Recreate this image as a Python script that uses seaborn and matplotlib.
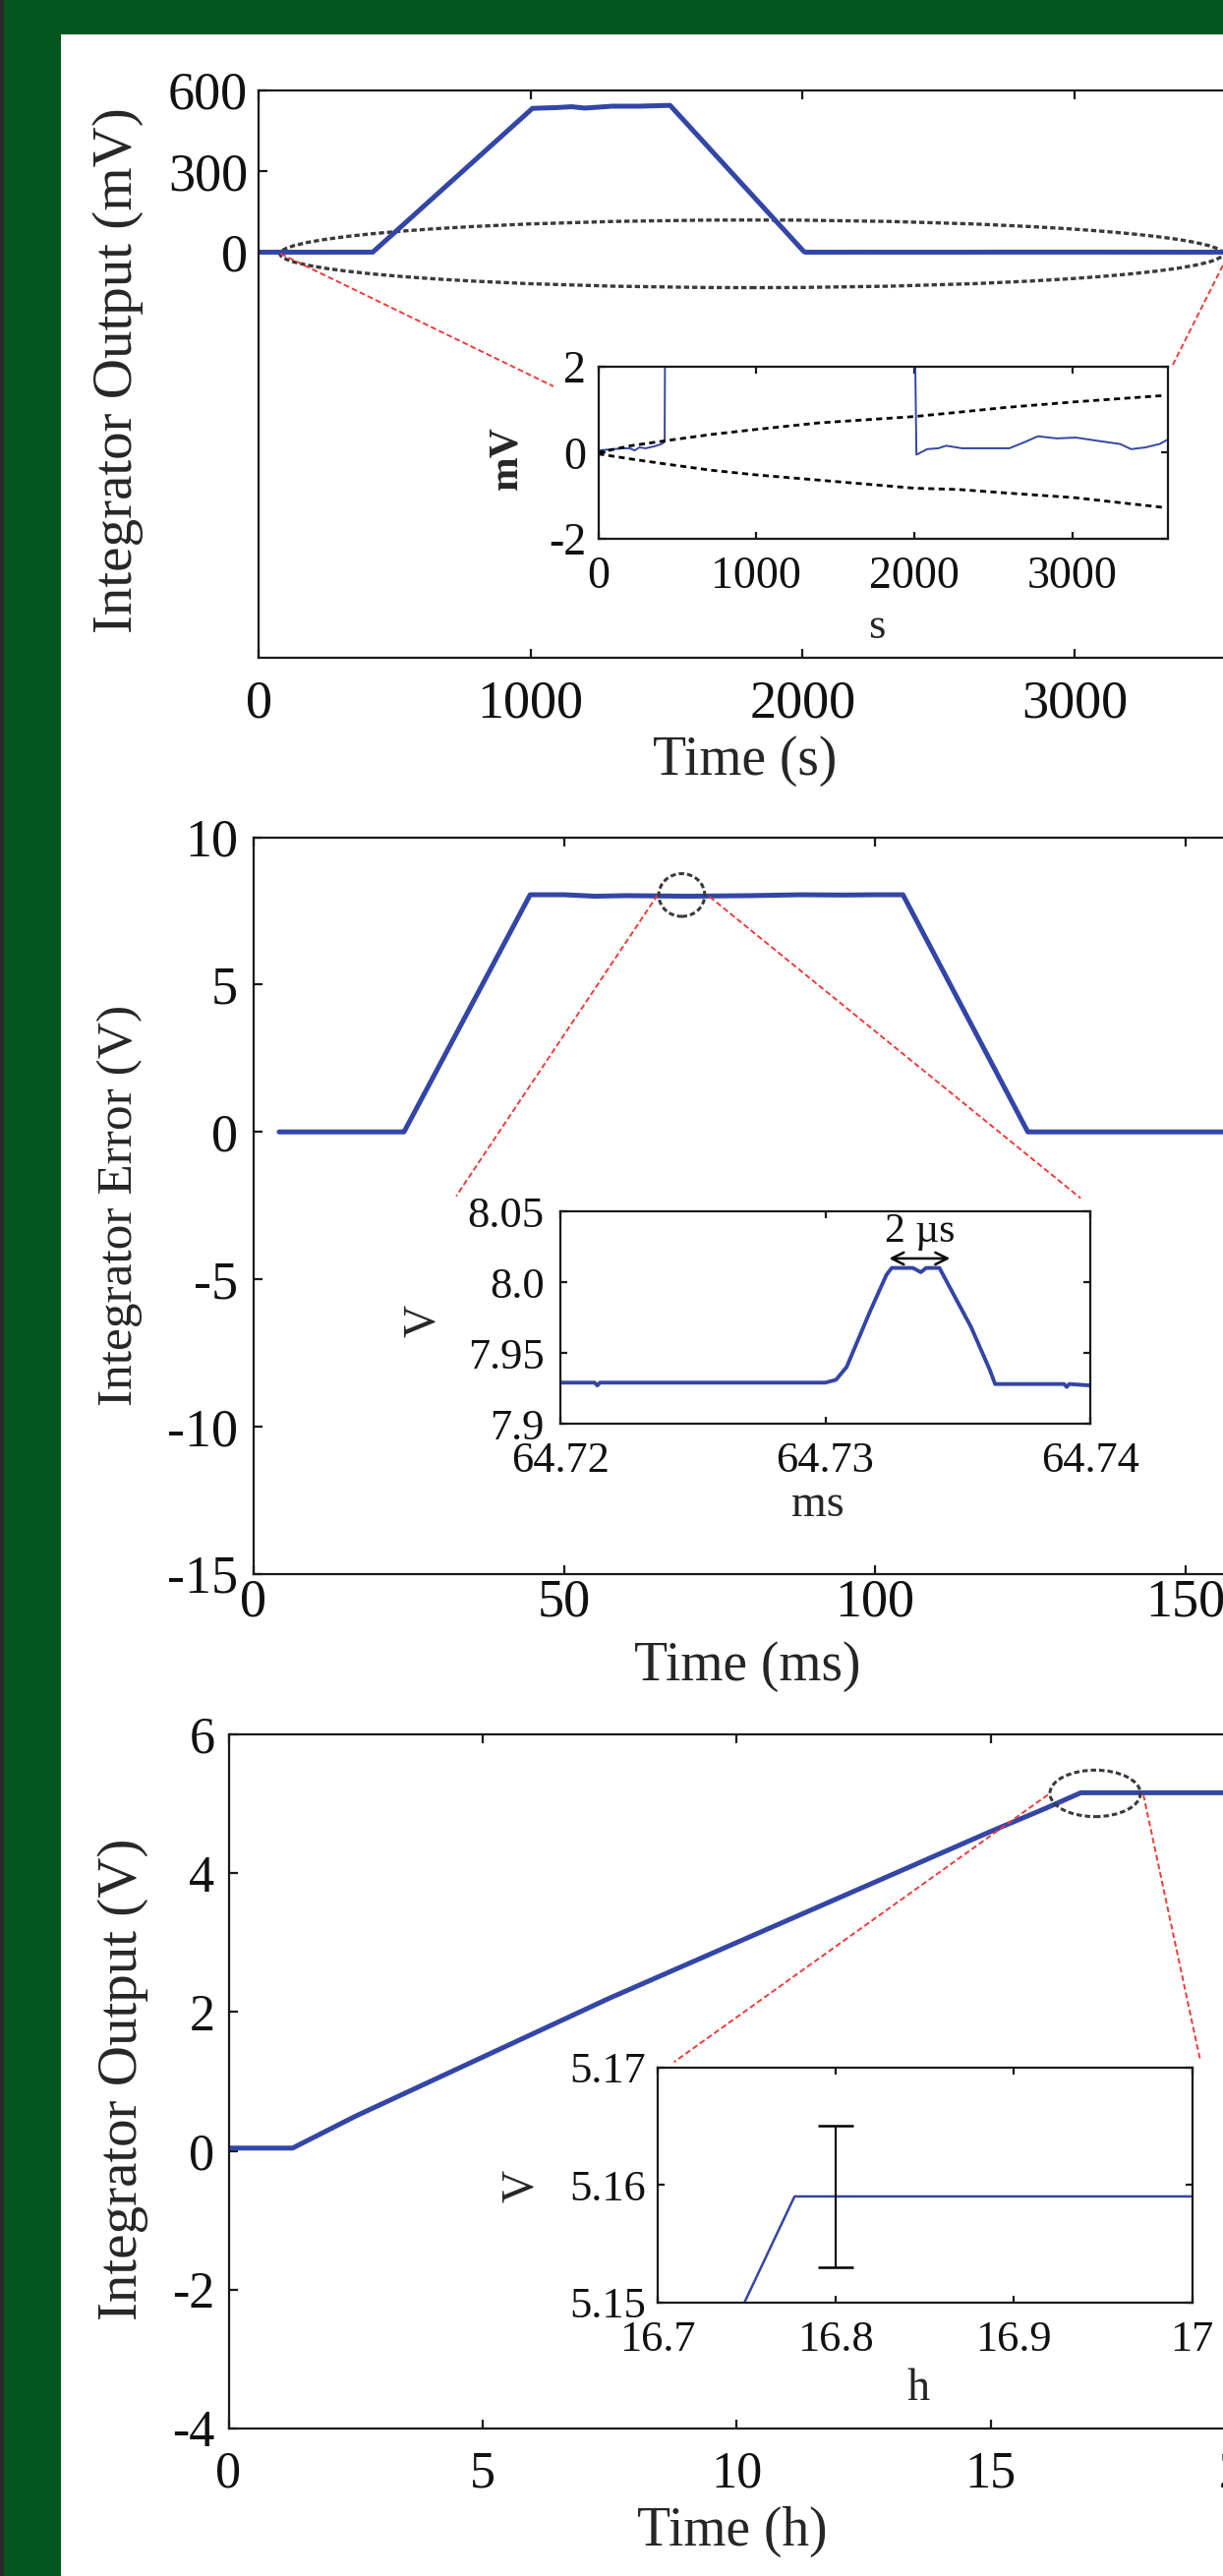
import numpy as np
import pandas as pd
import matplotlib
matplotlib.use("Agg")
import matplotlib.pyplot as plt
from matplotlib.patches import Ellipse, Rectangle
import seaborn as sns

# ---------------- data ----------------
# Panel 1: integrator output (mV) vs time (s); also used for the zoomed inset
p1_time = [0, 100, 150, 200, 230, 260, 300, 360, 400, 420, 1007, 1100, 1150, 1200,
           1300, 1400, 1513, 2005, 2012, 2080, 2150, 2200, 2300, 2450, 2600, 2700,
           2780, 2900, 3020, 3165, 3300, 3370, 3460, 3550, 3600]
p1_mv = [0.05, 0.08, 0.10, 0.10, 0.05, 0.12, 0.10, 0.15, 0.20, 0.25, 532, 535, 538, 533,
         540, 540, 543, 2.0, -0.05, 0.08, 0.10, 0.16, 0.10, 0.10, 0.10, 0.25,
         0.38, 0.33, 0.35, 0.27, 0.20, 0.08, 0.12, 0.20, 0.30]
# Dashed bounds in inset 1 (mV)
bound_time = [0, 207, 414, 710, 1000, 1390, 2000, 2278, 2574, 3010, 3580]
bound_upper = [0, 0.16, 0.27, 0.42, 0.54, 0.69, 0.84, 0.94, 1.05, 1.18, 1.33]
bound_lower = [-0.03, -0.15, -0.26, -0.41, -0.52, -0.64, -0.83, -0.86, -0.94, -1.05, -1.28]

# Panel 2: integrator error (V) vs time (ms)
p2_time = [4.1, 24.2, 44.5, 50, 55, 60, 70, 80, 88, 95, 100, 104.5, 124.6, 200]
p2_v = [0, 0, 8.05, 8.05, 8.0, 8.02, 8.0, 8.02, 8.05, 8.04, 8.05, 8.05, 0, 0]
# Inset 2: zoom around 64.73 ms
z2_time = [64.7200, 64.7213, 64.7214, 64.7215, 64.7300, 64.7304, 64.7308, 64.7317,
           64.7323, 64.7325, 64.7333, 64.7336, 64.7338, 64.7343, 64.7345, 64.7355,
           64.7362, 64.7364, 64.7390, 64.7391, 64.7392, 64.7400]
z2_v = [7.929, 7.929, 7.927, 7.929, 7.929, 7.931, 7.940, 7.980,
        8.005, 8.010, 8.010, 8.007, 8.010, 8.010, 8.003, 7.968,
        7.938, 7.928, 7.928, 7.926, 7.928, 7.927]

# Panel 3: integrator output (V) vs time (h); also used for inset 3
p3_time = [0, 1.26, 2.5, 5.0, 7.5, 10.0, 12.5, 15.0, 16.07, 16.749, 16.777, 25]
p3_v = [0.04, 0.04, 0.50, 1.35, 2.20, 3.00, 3.80, 4.60, 4.93, 5.150, 5.159, 5.159]
err_x = [16.8]
err_y = [5.159]
err_half = [0.006]

# tick labels
p1_xticks = [0, 1000, 2000, 3000]
p1_yticks = [0, 300, 600]
in1_xticks = [0, 1000, 2000, 3000]
in1_yticks = [-2, 0, 2]
p2_xticks = [0, 50, 100, 150]
p2_yticks = [-15, -10, -5, 0, 5, 10]
in2_xticks = [64.72, 64.73, 64.74]
in2_xlabels = ["64.72", "64.73", "64.74"]
in2_yticks = [7.90, 7.95, 8.00, 8.05]
in2_ylabels = ["7.9", "7.95", "8.0", "8.05"]
p3_xticks = [0, 5, 10, 15, 20]
p3_yticks = [-4, -2, 0, 2, 4, 6]
in3_xticks = [16.7, 16.8, 16.9, 17.0]
in3_xlabels = ["16.7", "16.8", "16.9", "17"]
in3_yticks = [5.15, 5.16, 5.17]
in3_ylabels = ["5.15", "5.16", "5.17"]

# ---------------- style ----------------
sns.set_theme(style="ticks")
plt.rcParams["font.family"] = ["Liberation Serif", "DejaVu Serif"]
plt.rcParams["axes.unicode_minus"] = False

BLUE = "#3346A6"
RED = "#F03A3A"
GRAY = "#3a3a3a"
GREEN = "#04561F"

W, H = 1244, 2620
fig = plt.figure(figsize=(W / 100, H / 100), dpi=100, facecolor=GREEN)
fig.patches.append(Rectangle((62 / W, 0), 1, 1 - 35 / H, transform=fig.transFigure,
                             facecolor="white", edgecolor="none", zorder=-2))
fig.patches.append(Rectangle((0, 0), 4 / W, 1, transform=fig.transFigure,
                             facecolor="#2a2a2a", edgecolor="none", zorder=-1))


def box(left, top, right, bottom):
    return [left / W, 1 - bottom / H, (right - left) / W, (bottom - top) / H]


def style(ax, lw, tlen, tsize, xpad, ypad):
    for s in ax.spines.values():
        s.set_visible(True)
        s.set_linewidth(lw)
        s.set_color("#1a1a1a")
    ax.tick_params(direction="in", top=True, right=True, length=tlen, width=lw,
                   labelsize=tsize, colors="#1a1a1a", labelcolor="#111111")
    ax.tick_params(axis="x", pad=xpad)
    ax.tick_params(axis="y", pad=ypad)
    ax.grid(False)
    ax.set_facecolor("white")


def labels(ax, xl, yl, xpos, ypos, size_x, size_y, weight_y="normal"):
    ax.set_xlabel(xl, fontsize=size_x)
    ax.set_ylabel(yl, fontsize=size_y, fontweight=weight_y)
    ax.xaxis.label.set_verticalalignment("center")
    ax.yaxis.label.set_verticalalignment("center")
    ax.xaxis.set_label_coords(*xpos)
    ax.yaxis.set_label_coords(*ypos)


def dashed(ax, xs, ys, color, lw, dashes):
    sns.lineplot(x=xs, y=ys, ax=ax, color=color, linewidth=lw, sort=False,
                 estimator=None, dashes=False)
    ax.lines[-1].set_dashes(dashes)


# ================= Panel 1 =================
ax1 = fig.add_axes(box(263, 91.5, 1369.7, 669))
ell1 = Ellipse((1812, -6), 3466, 250, fill=False, edgecolor=GRAY, lw=2.4,
               linestyle=(0, (1.6, 0.9)), zorder=1)
ax1.add_patch(ell1)
sns.lineplot(x=p1_time, y=p1_mv, ax=ax1, color=BLUE, linewidth=3.6,
             sort=False, estimator=None)
dashed(ax1, [81, 1084], [-6, -496], RED, 1.4, (3, 1.6))
dashed(ax1, [3545, 3361], [-49, -417], RED, 1.4, (3, 1.6))
ax1.set_xlim(0, 4000)
ax1.set_ylim(-1500, 600)
ax1.set_xticks(p1_xticks)
ax1.set_yticks(p1_yticks)
style(ax1, 1.6, 6.5, 39, 16, 8)
labels(ax1, "Time (s)", "Integrator Output (mV)", (0.447, -0.182), (-0.129, 0.506), 40, 41)

in1 = fig.add_axes(box(608.5, 373, 1187.6, 547.6))
sns.lineplot(x=p1_time, y=p1_mv, ax=in1, color=BLUE, linewidth=1.4,
             sort=False, estimator=None)
dashed(in1, bound_time, bound_upper, "black", 2.0, (2.2, 1.6))
dashed(in1, bound_time, bound_lower, "black", 2.0, (2.2, 1.6))
in1.set_xlim(0, 3600)
in1.set_ylim(-2, 2)
in1.set_xticks(in1_xticks)
in1.set_yticks(in1_yticks)
style(in1, 1.6, 5, 33, 13, 9)
labels(in1, "s", "mV", (0.49, -0.518), (-0.16, 0.47), 32, 30, "bold")

# ================= Panel 2 =================
ax2 = fig.add_axes(box(258, 851.6, 1522, 1600.7))
sns.lineplot(x=p2_time, y=p2_v, ax=ax2, color=BLUE, linewidth=3.6,
             sort=False, estimator=None)
ell2 = Ellipse((68.9, 8.04), 7.4, 1.45, fill=False, edgecolor=GRAY, lw=2.2,
               linestyle=(0, (1.8, 1.0)), zorder=3)
ax2.add_patch(ell2)
dashed(ax2, [65.0, 32.6], [8.04, -2.18], RED, 1.4, (3, 1.6))
dashed(ax2, [73.4, 133.1], [7.98, -2.25], RED, 1.4, (3, 1.6))
ax2.set_xlim(0, 200)
ax2.set_ylim(-15, 10)
ax2.set_xticks(p2_xticks)
ax2.set_yticks(p2_yticks)
style(ax2, 1.6, 6.5, 39, 3, 11.5)
labels(ax2, "Time (ms)", "Integrator Error (V)", (0.397, -0.126), (-0.108, 0.5), 40, 37)

in2 = fig.add_axes(box(569.8, 1232, 1109.3, 1448))
sns.lineplot(x=z2_time, y=z2_v, ax=in2, color=BLUE, linewidth=2.8,
             sort=False, estimator=None)
in2.annotate("", xy=(64.7324, 8.0167), xytext=(64.7347, 8.0167),
             arrowprops=dict(arrowstyle="<->", lw=1.8, color="black", mutation_scale=22,
                             shrinkA=0, shrinkB=0))
in2.text(64.73355, 8.0353, "2 µs", ha="center", va="center", fontsize=30, color="#111111")
in2.set_xlim(64.72, 64.74)
in2.set_ylim(7.9, 8.05)
in2.set_xticks(in2_xticks)
in2.set_xticklabels(in2_xlabels)
in2.set_yticks(in2_yticks)
in2.set_yticklabels(in2_ylabels)
style(in2, 1.6, 5, 32, 13, 11.5)
labels(in2, "ms", "V", (0.485, -0.382), (-0.257, 0.484), 33, 33)

# ================= Panel 3 =================
ax3 = fig.add_axes(box(232.5, 1764, 1524.2, 2470))
sns.lineplot(x=p3_time, y=p3_v, ax=ax3, color=BLUE, linewidth=3.6,
             sort=False, estimator=None)
ell3 = Ellipse((17.06, 5.15), 1.78, 0.67, fill=False, edgecolor=GRAY, lw=2.2,
               linestyle=(0, (1.8, 1.0)), zorder=3)
ax3.add_patch(ell3)
dashed(ax3, [16.13, 8.77], [5.13, 1.28], RED, 1.4, (3, 1.6))
dashed(ax3, [18.01, 19.13], [5.13, 1.30], RED, 1.4, (3, 1.6))
ax3.set_xlim(0, 25)
ax3.set_ylim(-4, 6)
ax3.set_xticks(p3_xticks)
ax3.set_yticks(p3_yticks)
style(ax3, 1.6, 6.5, 37.5, 16, 10)
labels(ax3, "Time (h)", "Integrator Output (V)", (0.397, -0.149), (-0.083, 0.5035), 40, 41)

in3 = fig.add_axes(box(668.5, 2102.5, 1212.7, 2341.5))
sns.lineplot(x=p3_time, y=p3_v, ax=in3, color=BLUE, linewidth=1.8,
             sort=False, estimator=None)
in3.errorbar(err_x, err_y, yerr=err_half, fmt="none", ecolor="black",
             elinewidth=1.5, capsize=13, capthick=1.8, zorder=4)
in3.set_xlim(16.7, 17.0)
in3.set_ylim(5.15, 5.17)
in3.set_xticks(in3_xticks)
in3.set_xticklabels(in3_xlabels)
in3.set_yticks(in3_yticks)
in3.set_yticklabels(in3_ylabels)
style(in3, 1.6, 5, 32, 13, 8.5)
labels(in3, "h", "V", (0.488, -0.37), (-0.253, 0.496), 33, 33)

fig.savefig("out.png", dpi=100, facecolor=fig.get_facecolor())
